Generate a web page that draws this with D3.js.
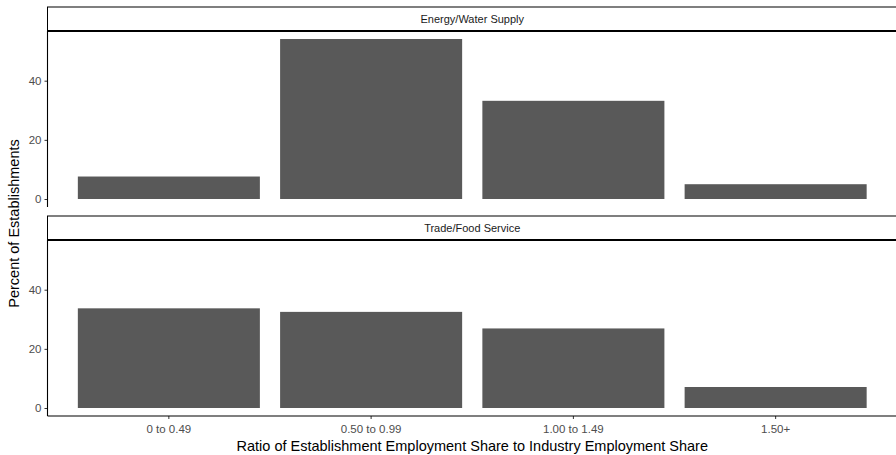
<!DOCTYPE html>
<html>
<head>
<meta charset="utf-8">
<script src="https://cdn.jsdelivr.net/npm/d3@7"></script>
<style>
  html, body { margin: 0; padding: 0; background: #fff; }
  svg { display: block; font-family: "Liberation Sans", Arial, sans-serif; }
</style>
</head>
<body>
<svg id="chart" width="896" height="455"></svg>
<script>
// Ratio bins shown along the x axis
const categories = ["0 to 0.49", "0.50 to 0.99", "1.00 to 1.49", "1.50+"];
// One facet per industry group
const facets = ["Energy/Water Supply", "Trade/Food Service"];
// Percent of establishments in each ratio bin
const energyValues = [7.6, 54.1, 33.2, 5.0];
const tradeValues = [33.7, 32.5, 26.9, 7.1];
const yTicks = [0, 20, 40];

const seriesByFacet = [energyValues, tradeValues];

const svg = d3.select("#chart");

// Panel geometry (facet_wrap style, one column)
const left = 47.5, right = 897;
const panels = [
  { stripTop: 7, stripBottom: 31, top: 31, bottom: 207 },
  { stripTop: 216, stripBottom: 240, top: 240, bottom: 416 }
];

// Discrete x axis with 0.6 category padding on each side, bars 90% of a step
const step = (right - left) / (categories.length + 0.2);
const x = d3.scaleBand()
  .domain(categories)
  .range([left + 0.1 * step, right - 0.1 * step])
  .paddingInner(0.1)
  .paddingOuter(0.05);

// Shared y scale with 5% expansion
const maxVal = d3.max(seriesByFacet.flat());
const yDomain = [-0.05 * maxVal, maxVal * 1.05];

panels.forEach((p, i) => {
  const y = d3.scaleLinear().domain(yDomain).range([p.bottom, p.top]);
  const g = svg.append("g");

  // Bars
  g.selectAll("rect.bar")
    .data(categories.map((c, j) => ({ c, v: seriesByFacet[i][j] })))
    .join("rect")
    .attr("class", "bar")
    .attr("x", d => x(d.c))
    .attr("width", x.bandwidth())
    .attr("y", d => y(d.v))
    .attr("height", d => y(0) - y(d.v))
    .attr("fill", "#595959");

  // Strip
  g.append("rect")
    .attr("x", left)
    .attr("y", p.stripTop)
    .attr("width", right - left + 5)
    .attr("height", p.stripBottom - p.stripTop)
    .attr("fill", "#fff")
    .attr("stroke", "#000")
    .attr("stroke-width", 1);
  g.append("line")
    .attr("x1", left).attr("x2", right)
    .attr("y1", p.stripBottom).attr("y2", p.stripBottom)
    .attr("stroke", "#000").attr("stroke-width", 2);
  g.append("text")
    .attr("x", (left + right) / 2)
    .attr("y", (p.stripTop + p.stripBottom) / 2 + 4)
    .attr("text-anchor", "middle")
    .attr("font-size", "11px")
    .attr("fill", "#1a1a1a")
    .text(facets[i]);

  // Y axis
  const yAxis = d3.axisLeft(y).tickValues(yTicks).tickSize(3).tickPadding(3);
  const ya = g.append("g")
    .attr("transform", `translate(${left},0)`)
    .call(yAxis);
  ya.select(".domain").remove();
  ya.selectAll(".tick line").attr("stroke", "#333");
  ya.selectAll(".tick text")
    .attr("fill", "#4d4d4d")
    .attr("font-size", "11.5px")
    .attr("font-family", "Liberation Sans, Arial, sans-serif");
  g.append("line")
    .attr("x1", left).attr("x2", left)
    .attr("y1", p.top).attr("y2", p.bottom)
    .attr("stroke", "#000").attr("stroke-width", 1.1);
});

// X axis on the bottom panel only
const xa = svg.append("g")
  .attr("transform", `translate(0,${panels[1].bottom})`)
  .call(d3.axisBottom(x).tickSize(3).tickPadding(6).tickSizeOuter(0));
xa.select(".domain").remove();
xa.selectAll(".tick line").attr("stroke", "#333");
xa.selectAll(".tick text")
  .attr("fill", "#4d4d4d")
  .attr("font-size", "11.5px")
  .attr("font-family", "Liberation Sans, Arial, sans-serif");
svg.append("line")
  .attr("x1", left).attr("x2", right)
  .attr("y1", panels[1].bottom).attr("y2", panels[1].bottom)
  .attr("stroke", "#000").attr("stroke-width", 1.1);

// Axis titles
svg.append("text")
  .attr("x", (left + right) / 2)
  .attr("y", 451)
  .attr("text-anchor", "middle")
  .attr("font-size", "14.5px")
  .attr("fill", "#000")
  .text("Ratio of Establishment Employment Share to Industry Employment Share");
svg.append("text")
  .attr("transform", `translate(19,${(panels[0].top + panels[1].bottom) / 2}) rotate(-90)`)
  .attr("text-anchor", "middle")
  .attr("font-size", "14.5px")
  .attr("fill", "#000")
  .text("Percent of Establishments");
</script>
</body>
</html>
